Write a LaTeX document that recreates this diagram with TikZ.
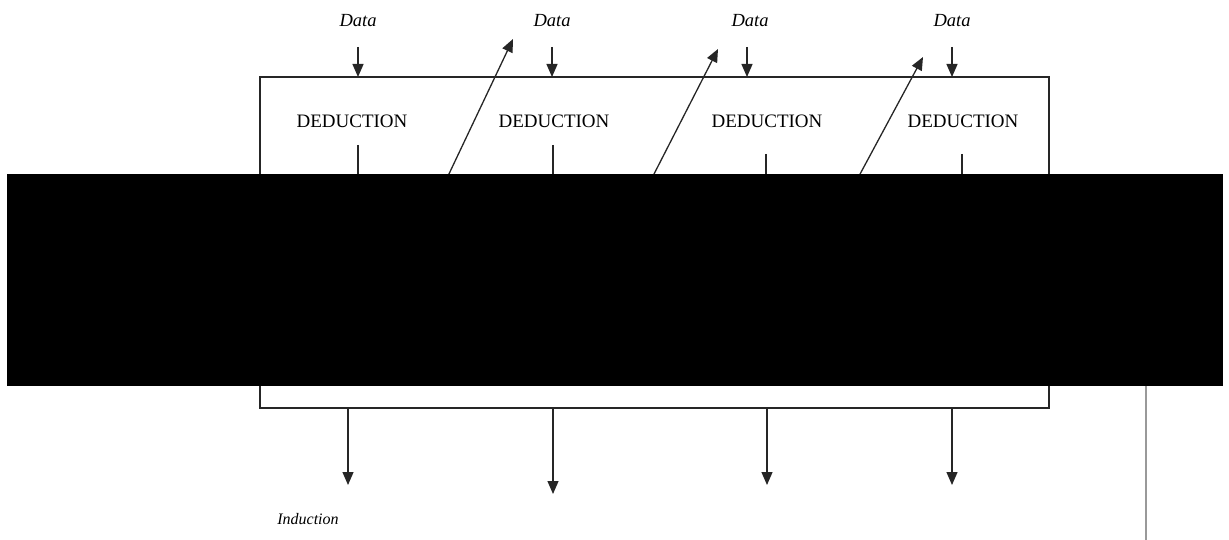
\documentclass[tikz,border=0pt]{standalone}
\usepackage{fontspec}
\setmainfont{Liberation Serif}
\usetikzlibrary{arrows.meta}
\tikzset{
  ln/.style={draw=black!85, line width=1.3pt},
  arr/.style={ln, -{Triangle[width=11pt,length=13pt]}},
  datalbl/.style={font=\fontsize{18.5}{20}\selectfont\itshape, inner sep=0pt},
  dedlbl/.style={font=\fontsize{19}{21}\selectfont, inner sep=0pt},
  indlbl/.style={font=\fontsize{16}{18}\selectfont\itshape, inner sep=0pt}
}
\begin{document}
\begin{tikzpicture}[x=1pt,y=-1pt]
\useasboundingbox (0,0) rectangle (1229,540);
% main box
\draw[ln] (260,77) rectangle (1049,408);
% Data labels
\node[datalbl] (d1) at (358,21) {Data};
\node[datalbl] (d2) at (552,21) {Data};
\node[datalbl] (d3) at (750,21) {Data};
\node[datalbl] (d4) at (952,21) {Data};
% top arrows
\foreach \i/\x in {1/358,2/552,3/747,4/952}{
  \coordinate (ts\i) at (\x,47);
  \coordinate (te\i) at (\x,77);
  \draw[arr] (ts\i) -- (te\i);
}
% DEDUCTION labels
\node[dedlbl] (e1) at (352,121) {DEDUCTION};
\node[dedlbl] (e2) at (554,121) {DEDUCTION};
\node[dedlbl] (e3) at (767,121) {DEDUCTION};
\node[dedlbl] (e4) at (963,121) {DEDUCTION};
% short lines below DEDUCTION
\coordinate (v1a) at (358,145); \coordinate (v1b) at (358,180);
\coordinate (v2a) at (553,145); \coordinate (v2b) at (553,180);
\coordinate (v3a) at (766,154); \coordinate (v3b) at (766,180);
\coordinate (v4a) at (962,154); \coordinate (v4b) at (962,180);
\draw[ln] (v1a) -- (v1b);
\draw[ln] (v2a) -- (v2b);
\draw[ln] (v3a) -- (v3b);
\draw[ln] (v4a) -- (v4b);
% diagonal arrows
\coordinate (g1a) at (448,176); \coordinate (g1b) at (513,39);
\coordinate (g2a) at (653,176); \coordinate (g2b) at (718,49);
\coordinate (g3a) at (859,176); \coordinate (g3b) at (923,57);
\draw[arr] (g1a) -- (g1b);
\draw[arr] (g2a) -- (g2b);
\draw[arr] (g3a) -- (g3b);
% bottom arrows
\foreach \i/\x/\y in {1/348/485,2/553/494,3/767/485,4/952/485}{
  \coordinate (bs\i) at (\x,408);
  \coordinate (be\i) at (\x,\y);
  \draw[arr] (bs\i) -- (be\i);
}
\node[indlbl] (ind) at (308,519) {Induction};
% gray vertical line
\coordinate (gv1) at (1146,380);
\coordinate (gv2) at (1146,540);
\draw[draw=black!40, line width=2pt] (gv1) -- (gv2);
% redaction bar
\fill[black] (7,174) rectangle (1223,386);
\end{tikzpicture}
\end{document}
